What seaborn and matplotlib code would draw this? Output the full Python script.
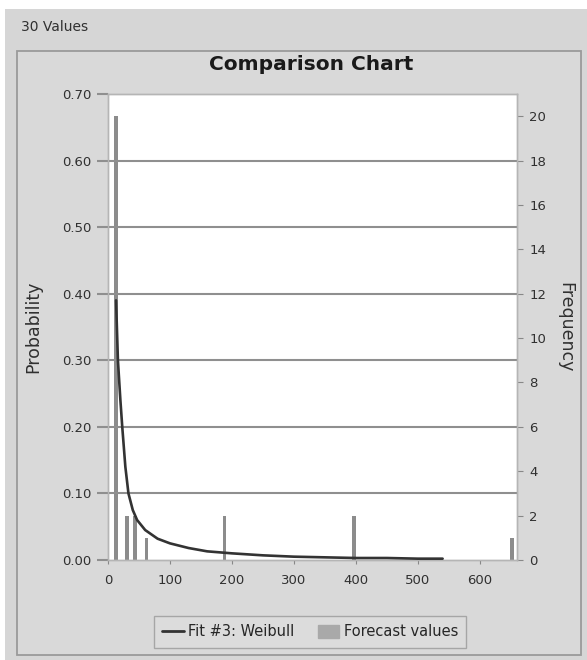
import matplotlib
matplotlib.use("Agg")
import matplotlib.pyplot as plt
import matplotlib.patches as mpatches
from matplotlib.lines import Line2D
import seaborn as sns
import pandas as pd

# ---- data ----
fit_x = [13, 16, 20, 23, 28, 33, 40, 47, 60, 80, 100, 130, 160, 200, 250, 300, 350, 400, 450, 500, 540]
fit_prob = [0.39, 0.30, 0.24, 0.20, 0.14, 0.10, 0.075, 0.06, 0.045, 0.032, 0.025, 0.018, 0.013,
            0.010, 0.007, 0.005, 0.004, 0.003, 0.003, 0.002, 0.002]
bar_x = [13, 31, 44, 62, 188, 397, 652]
bar_freq = [20, 2, 2, 1, 2, 2, 1]
prob_ticks = [0.00, 0.10, 0.20, 0.30, 0.40, 0.50, 0.60, 0.70]
freq_ticks = [0, 2, 4, 6, 8, 10, 12, 14, 16, 18, 20]
x_ticks = [0, 100, 200, 300, 400, 500, 600]

sns.set_theme(style="white")
plt.rcParams['font.family'] = ['DejaVu Sans']

BG = "#d6d6d6"
TXT = "#303030"
fig = plt.figure(figsize=(5.87, 6.6), dpi=100, facecolor="white")
W, H = 587, 660

def fx(px):
    return px / W

def fy(py):
    return 1 - py / H

# grey window background (white strip top/left as in screenshot)
bgrect = mpatches.Rectangle((fx(5), 0), 1 - fx(5), fy(9), transform=fig.transFigure,
                            facecolor=BG, edgecolor="none", zorder=-20)
fig.patches.append(bgrect)
# outer panel frame
panel = mpatches.Rectangle((fx(17), fy(655)), fx(581) - fx(17), fy(51) - fy(655),
                           transform=fig.transFigure, facecolor="#d9d9d9",
                           edgecolor="#9a9a9a", lw=1.3, zorder=-10)
fig.patches.append(panel)
fig.text(fx(21), fy(27), "30 Values", fontsize=10, color=TXT, va="center", ha="left")
fig.text(fx(311), fy(65), "Comparison Chart", fontsize=14.5, fontweight="bold",
         color="#1a1a1a", ha="center", va="center")

ax = fig.add_axes([fx(108), fy(560), fx(517) - fx(108), fy(94) - fy(560)])
ax2 = ax.twinx()
ax2.set_zorder(1)
ax.set_zorder(2)
ax.patch.set_visible(False)
ax2.patch.set_visible(True)
ax2.patch.set_facecolor("white")

# bars (frequency, right axis)
ax2.bar(bar_x, bar_freq, width=6, color="#8c8c8c", edgecolor="none", zorder=2)
ax2.set_ylim(0, 21)
ax2.set_yticks(freq_ticks)
ax2.set_yticklabels([str(t) for t in freq_ticks], fontsize=9.5, color=TXT)
ax2.tick_params(axis="y", direction="out", length=4, width=0.8, color="#888888", pad=5, right=True)
ax2.set_ylabel("Frequency", rotation=270, fontsize=12.5, color=TXT, labelpad=20)

# fitted curve (probability, left axis)
df = pd.DataFrame({"x": fit_x, "p": fit_prob})
sns.lineplot(data=df, x="x", y="p", ax=ax, color="#333333", lw=1.9, zorder=3)

ax.set_xlim(0, 660)
ax.set_ylim(0, 0.70)
ax.set_yticks(prob_ticks)
ax.set_yticklabels([f"{t:.2f}" for t in prob_ticks], fontsize=9.5, color=TXT)
ax.set_xticks(x_ticks)
ax.set_xticklabels([str(t) for t in x_ticks], fontsize=9.5, color=TXT)
ax.tick_params(axis="y", direction="out", length=8, width=1.5, color="#8f8f8f", pad=4, left=True)
ax.tick_params(axis="x", direction="out", length=3, width=0.8, color="#888888", pad=7, bottom=True)
ax.set_xlabel("")
ax.set_ylabel("Probability", fontsize=12.5, color=TXT, labelpad=14)

for t in prob_ticks[1:-1]:
    ax.axhline(t, color="#8f8f8f", lw=1.5, zorder=1)

for a in (ax, ax2):
    for s in a.spines.values():
        s.set_color("#b5b5b5")
        s.set_linewidth(1.0)

# legend box below
handles = [Line2D([0], [0], color="#333333", lw=2.0),
           mpatches.Patch(facecolor="#a9a9a9", edgecolor="#a9a9a9")]
leg = fig.legend(handles, ["Fit #3: Weibull", "Forecast values"], loc="center",
                 bbox_to_anchor=(fx(310), fy(632)), ncol=2, fontsize=10.5,
                 frameon=True, fancybox=False, handlelength=1.5, handleheight=0.9,
                 handletextpad=0.3, columnspacing=1.6, borderpad=0.55, borderaxespad=0)
leg.get_frame().set_edgecolor("#9a9a9a")
leg.get_frame().set_facecolor("#dedede")
leg.get_frame().set_linewidth(1.0)

fig.savefig("out.png", dpi=100, facecolor="white")
